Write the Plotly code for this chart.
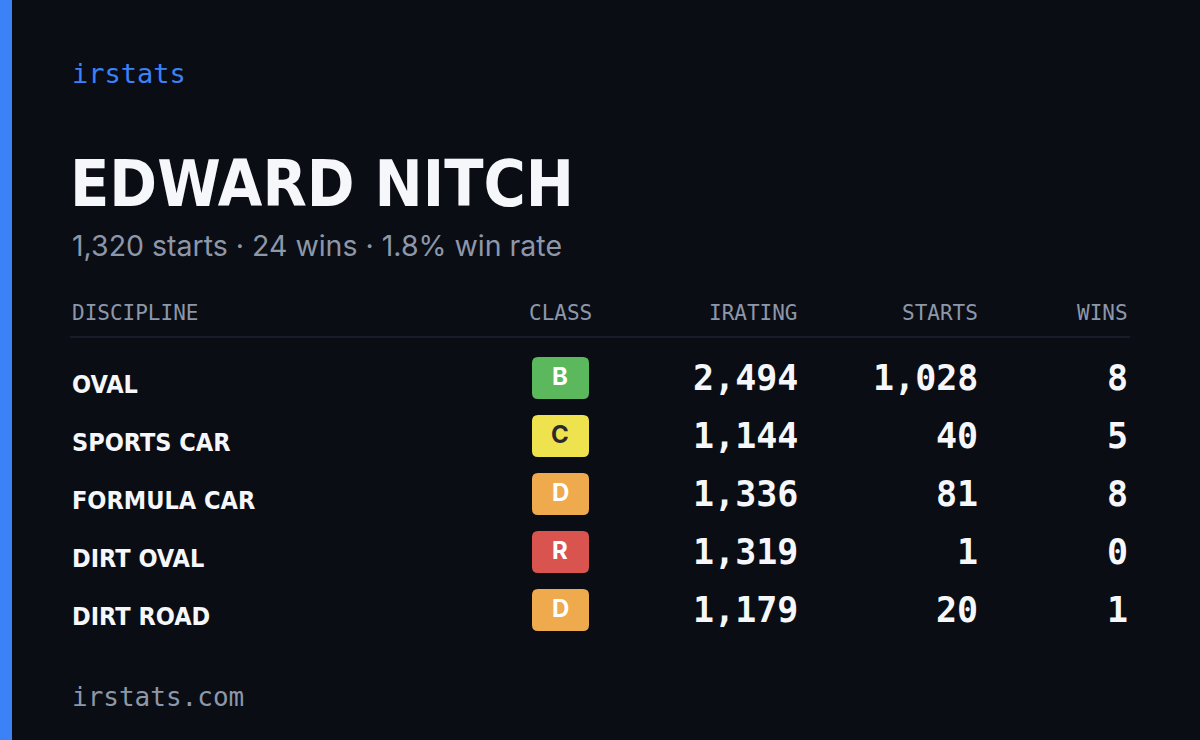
import plotly.graph_objects as go

# data
driver = "EDWARD NITCH"
total_starts = 1320
total_wins = 24
disciplines = ["OVAL", "SPORTS CAR", "FORMULA CAR", "DIRT OVAL", "DIRT ROAD"]
classes = ["B", "C", "D", "R", "D"]
iratings = [2494, 1144, 1336, 1319, 1179]
starts = [1028, 40, 81, 1, 20]
wins = [8, 5, 8, 0, 1]
headers = ["DISCIPLINE", "CLASS", "IRATING", "STARTS", "WINS"]

class_colors = {"B": "#5cb85c", "C": "#efe24f", "D": "#efaa4e", "R": "#d9534f"}
class_text = {"B": "white", "C": "#2a2a2a", "D": "white", "R": "white"}

BG = "#0a0d14"
BLUE = "#3b82f6"
GRAY = "#8d97aa"
WHITE = "#f5f7fa"
MONO = "DejaVu Sans Mono"
NARROW = "DejaVu Sans Condensed, Liberation Sans Narrow, Roboto Condensed, Roboto"

fig = go.Figure()
ann = []
shapes = []

# left accent
shapes.append(dict(type="rect", x0=0, x1=12, y0=0, y1=740, fillcolor=BLUE, line_width=0))

ann.append(dict(x=70, y=73, text="irstats", xanchor="left", font=dict(family=MONO, size=27, color=BLUE)))
ann.append(dict(x=68, y=184, text="<b>%s</b>" % driver, xanchor="left",
                font=dict(family=NARROW, size=64, color=WHITE)))
sub = "%s starts · %d wins · %.1f%% win rate" % (f"{total_starts:,}", total_wins, 100 * total_wins / total_starts)
ann.append(dict(x=70, y=245, text=sub, xanchor="left", font=dict(family="Inter", size=28.5, color=GRAY)))

col_x = [70, 560, 800, 980, 1130]
col_anchor = ["left", "center", "right", "right", "right"]
for h, x, a in zip(headers, col_x, col_anchor):
    ann.append(dict(x=x, y=313, text=h, xanchor=a, font=dict(family=MONO, size=21, color=GRAY)))
shapes.append(dict(type="line", x0=70, x1=1130, y0=337, y1=337, line=dict(color="#1e2330", width=1.5)))

for i, name in enumerate(disciplines):
    yc = 378 + 58 * i
    ann.append(dict(x=70, y=yc + 6, text="<b>%s</b>" % name, xanchor="left",
                    font=dict(family=NARROW, size=25, color=WHITE)))
    c = classes[i]
    x0, x1, y0, y1, r = 532, 589, yc - 21, yc + 21, 6
    path = (f"M{x0+r},{y0} L{x1-r},{y0} Q{x1},{y0} {x1},{y0+r} L{x1},{y1-r} Q{x1},{y1} {x1-r},{y1} "
            f"L{x0+r},{y1} Q{x0},{y1} {x0},{y1-r} L{x0},{y0+r} Q{x0},{y0} {x0+r},{y0} Z")
    shapes.append(dict(type="path", path=path, fillcolor=class_colors[c], line_width=0))
    ann.append(dict(x=560, y=yc - 2, text="<b>%s</b>" % c, xanchor="center",
                    font=dict(family="Inter", size=24, color=class_text[c])))
    for x, v in zip(col_x[2:], [iratings[i], starts[i], wins[i]]):
        ann.append(dict(x=x, y=yc, text=f"<b>{v:,}</b>", xanchor="right",
                        font=dict(family=MONO, size=35, color=WHITE)))

ann.append(dict(x=70, y=697, text="irstats.com", xanchor="left", font=dict(family=MONO, size=26, color=GRAY)))

for a in ann:
    a.update(xref="x", yref="y", showarrow=False, yanchor="middle")

fig.update_layout(
    width=1200, height=740, margin=dict(l=0, r=0, t=0, b=0),
    paper_bgcolor=BG, plot_bgcolor=BG, annotations=ann, shapes=shapes,
    xaxis=dict(range=[0, 1200], visible=False, fixedrange=True),
    yaxis=dict(range=[740, 0], visible=False, fixedrange=True),
    showlegend=False,
)
fig.write_html("out.html", config={"displayModeBar": False},
               post_script="document.body.style.margin='0';document.body.style.background='%s';" % BG)
